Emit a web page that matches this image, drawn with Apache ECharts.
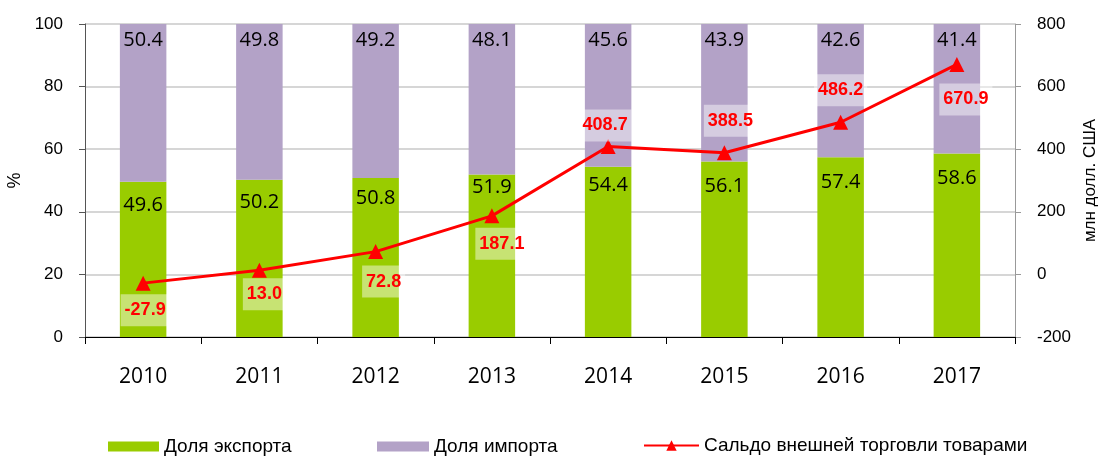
<!DOCTYPE html>
<html>
<head>
<meta charset="utf-8">
<script src="https://cdn.jsdelivr.net/npm/echarts@6/dist/echarts.min.js"></script>
<style>
  html, body { margin: 0; padding: 0; background: #fff; }
  #main { width: 1102px; height: 458px; }
</style>
</head>
<body>
<div id="main"></div>
<script>
// данные
const years = ['2010', '2011', '2012', '2013', '2014', '2015', '2016', '2017'];
const exportShare = [49.6, 50.2, 50.8, 51.9, 54.4, 56.1, 57.4, 58.6];
const importShare = [50.4, 49.8, 49.2, 48.1, 45.6, 43.9, 42.6, 41.4];
const balance = [-27.9, 13.0, 72.8, 187.1, 408.7, 388.5, 486.2, 670.9];

// сдвиги подписей (оформление)
const exportLabelShift = [9, 7, 5, -2, 4, 10, 10, 10];
const balanceLabelShift = [[2, 27], [5, 24], [8, 30], [10, 28], [-3, -21], [6, -32], [0, -32], [9, 35]];

const GREEN = '#99CC00';
const PURPLE = '#B3A2C7';
const RED = '#FF0000';
const axisFont = 'Liberation Sans, Arial, sans-serif';
const valueFont = 'Open Sans, sans-serif';

const chart = echarts.init(document.getElementById('main'));

const legendText = { fontFamily: axisFont, fontSize: 19, color: '#000' };

const option = {
  animation: false,
  grid: { left: 85, right: 87, top: 24, bottom: 121, outerBoundsMode: 'none', containLabel: false },
  legend: [
    {
      left: 108, top: 437, padding: 0, itemWidth: 51, itemHeight: 10, itemGap: 0,
      icon: 'rect', data: ['Доля экспорта'], textStyle: legendText
    },
    {
      left: 377, top: 437, padding: 0, itemWidth: 52, itemHeight: 10, itemGap: 0,
      icon: 'rect', data: ['Доля импорта'], textStyle: legendText
    },
    {
      left: 643, top: 436, padding: 0, itemWidth: 55, itemHeight: 13, itemGap: 0,
      data: ['Сальдо внешней торговли товарами'], textStyle: legendText
    }
  ],
  xAxis: {
    type: 'category',
    data: years,
    axisLine: { lineStyle: { color: '#000', width: 1 } },
    axisTick: { show: true, length: 7, lineStyle: { color: '#000' } },
    axisLabel: { margin: 30, fontFamily: valueFont, fontSize: 21, color: '#000' }
  },
  yAxis: [
    {
      type: 'value', min: 0, max: 100, interval: 20,
      name: '%', nameLocation: 'middle', nameGap: 60, nameRotate: 90,
      nameTextStyle: { fontFamily: axisFont, fontSize: 18, color: '#000' },
      axisLine: { show: true, lineStyle: { color: '#555' } },
      axisTick: { show: true, length: 6, lineStyle: { color: '#555' } },
      axisLabel: { margin: 22, fontFamily: axisFont, fontSize: 17, color: '#000' },
      splitLine: { lineStyle: { color: '#c8c8c8', width: 1.5 } }
    },
    {
      type: 'value', min: -200, max: 800, interval: 200, position: 'right',
      name: 'млн долл. США', nameLocation: 'middle', nameGap: 66, nameRotate: 90,
      nameTextStyle: { fontFamily: axisFont, fontSize: 17, color: '#000' },
      axisLine: { show: true, lineStyle: { color: '#999' } },
      axisTick: { show: true, length: 6, lineStyle: { color: '#999' } },
      axisLabel: { margin: 22, fontFamily: axisFont, fontSize: 17, color: '#000' },
      splitLine: { show: false }
    }
  ],
  series: [
    {
      name: 'Доля экспорта', type: 'bar', stack: 'share', barWidth: '40%',
      itemStyle: { color: GREEN },
      data: exportShare.map((v, i) => ({
        value: v,
        label: { offset: [0, exportLabelShift[i]] }
      })),
      label: {
        show: true, position: 'insideTop', distance: 5,
        fontFamily: valueFont, fontSize: 20, color: '#000',
        formatter: p => p.value.toFixed(1)
      }
    },
    {
      name: 'Доля импорта', type: 'bar', stack: 'share', barWidth: '40%',
      itemStyle: { color: PURPLE },
      data: importShare,
      label: {
        show: true, position: 'insideTop', distance: 6,
        fontFamily: valueFont, fontSize: 20, color: '#000',
        formatter: p => p.value.toFixed(1)
      }
    },
    {
      name: 'Сальдо внешней торговли товарами', type: 'line', yAxisIndex: 1, z: 5,
      symbol: 'triangle', symbolSize: 15,
      itemStyle: { color: RED },
      lineStyle: { color: RED, width: 3 },
      data: balance.map((v, i) => ({
        value: v,
        label: { offset: balanceLabelShift[i] }
      })),
      label: {
        show: true, position: 'inside',
        fontFamily: axisFont, fontSize: 18, fontWeight: 'bold', color: RED,
        backgroundColor: 'rgba(255,255,255,0.45)', padding: [7, 4],
        formatter: p => p.value.toFixed(1)
      }
    }
  ]
};

chart.setOption(option);
</script>
</body>
</html>
